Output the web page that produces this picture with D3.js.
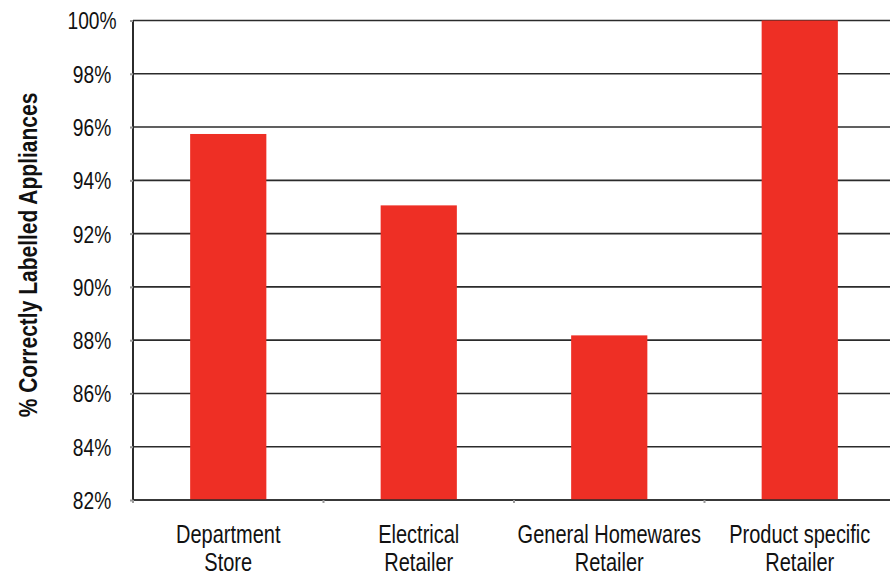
<!DOCTYPE html>
<html>
<head>
<meta charset="utf-8">
<script src="https://cdn.jsdelivr.net/npm/d3@7"></script>
<style>
  html, body { margin: 0; padding: 0; background: #fff; }
  svg { display: block; }
  text { font-family: "Liberation Sans", Arial, sans-serif; fill: #111; }
</style>
</head>
<body>
<svg id="chart" width="890" height="574"></svg>
<script>
// Retailer categories (two-line labels) and share of correctly labelled appliances
const categories = ["Department Store", "Electrical Retailer", "General Homewares Retailer", "Product specific Retailer"];
const labelLines = [["Department", "Store"], ["Electrical", "Retailer"], ["General Homewares", "Retailer"], ["Product specific", "Retailer"]];
const values = [95.74, 93.06, 88.18, 100];
const yTicks = [82, 84, 86, 88, 90, 92, 94, 96, 98, 100];

const svg = d3.select("#chart");
const plotLeft = 133, plotTop = 20.5, plotBottom = 500, plotRight = 895;
const condense = 0.8; // horizontal squeeze for a condensed sans look

const x = d3.scaleBand().domain(categories).range([plotLeft, plotRight]).paddingInner(0.6).paddingOuter(0.3);
const y = d3.scaleLinear().domain([82, 100]).range([plotBottom, plotTop]);

// horizontal gridlines
svg.append("g").selectAll("line").data(yTicks).join("line")
  .attr("x1", plotLeft).attr("x2", 890)
  .attr("y1", d => y(d)).attr("y2", d => y(d))
  .attr("stroke", "#2b2b2b").attr("stroke-width", 1.6);

// bars
svg.append("g").selectAll("rect").data(values).join("rect")
  .attr("x", (d, i) => x(categories[i]))
  .attr("width", x.bandwidth())
  .attr("y", d => y(d))
  .attr("height", d => y(82) - y(d))
  .attr("fill", "#ee2f25");

// y axis
const yAxis = d3.axisLeft(y).tickValues(yTicks).tickSize(3).tickFormat(d => d + "%");
const gy = svg.append("g").attr("transform", `translate(${plotLeft},0)`).call(yAxis);
gy.select(".domain").attr("stroke", "#2b2b2b").attr("stroke-width", 2).attr("d", `M0,${plotTop}V${plotBottom}`);
gy.selectAll(".tick line").attr("stroke", "#999").attr("stroke-width", 2);
gy.selectAll(".tick text")
  .attr("x", 0).attr("dy", "0.35em")
  .attr("text-anchor", "middle")
  .attr("transform", `translate(-41,0) scale(${condense},1)`)
  .attr("font-size", 24)
  .attr("font-family", "Liberation Sans, Arial, sans-serif")
  .style("fill", "#111");

// x axis baseline and band-boundary ticks
svg.append("line").attr("x1", plotLeft).attr("x2", 890).attr("y1", plotBottom).attr("y2", plotBottom)
  .attr("stroke", "#2b2b2b").attr("stroke-width", 1.6);
const step = x.step();
const bounds = d3.range(categories.length).map(i => x(categories[i]) - x.paddingInner() * step / 2);
svg.append("g").selectAll("line").data(bounds).join("line")
  .attr("x1", d => d).attr("x2", d => d).attr("y1", plotBottom).attr("y2", plotBottom + 3)
  .attr("stroke", "#999").attr("stroke-width", 2);

// category labels
const lbl = svg.append("g").selectAll("text").data(categories).join("text")
  .attr("text-anchor", "middle")
  .attr("font-size", 25)
  .attr("transform", d => `translate(${x(d) + x.bandwidth() / 2},543) scale(${condense},1)`);
lbl.each(function(d, i) {
  const t = d3.select(this);
  labelLines[i].forEach((line, j) => {
    t.append("tspan").attr("x", 0).attr("y", j * 28).text(line);
  });
});

// y axis title
svg.append("text")
  .attr("transform", `translate(37,${(92 + 418) / 2}) rotate(-90) scale(0.84,1)`)
  .attr("text-anchor", "middle")
  .attr("font-size", 25)
  .attr("font-weight", "bold")
  .text("% Correctly Labelled Appliances");
</script>
</body>
</html>
